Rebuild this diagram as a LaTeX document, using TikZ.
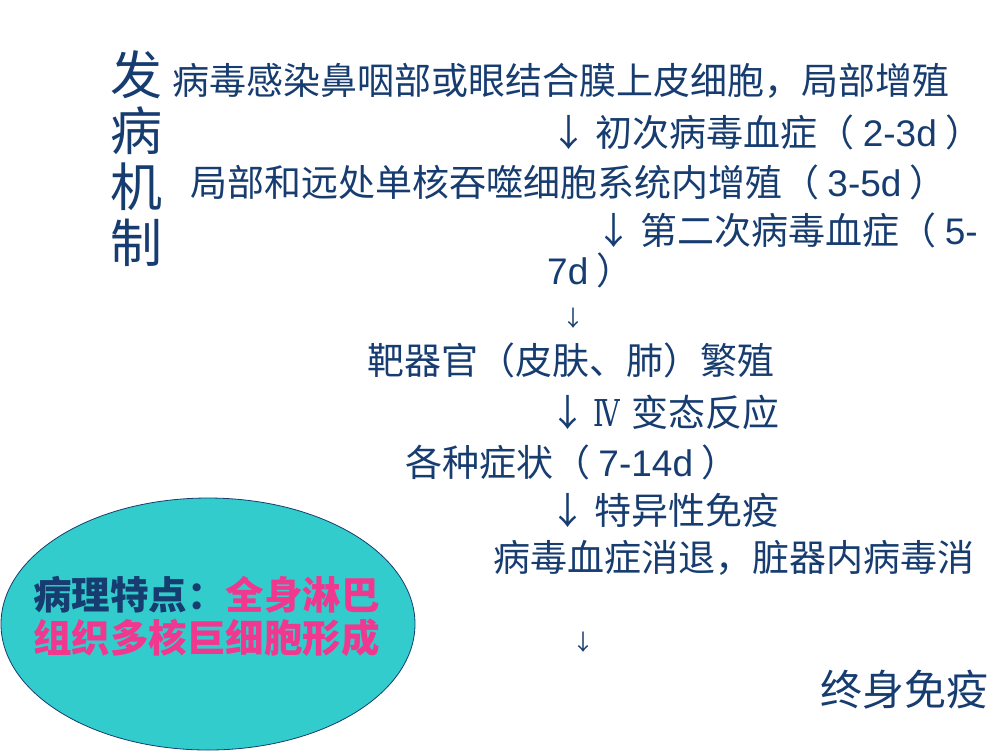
\documentclass[tikz,border=0pt]{standalone}
\usepackage{fontspec}
\usetikzlibrary{shapes.geometric}
\setmainfont{Liberation Sans}
\newfontfamily\cjk{Noto Sans CJK SC}
\newfontfamily\lat{Liberation Sans}
\newfontfamily\romn{DejaVu Serif}
\definecolor{navy}{RGB}{22,60,112}
\definecolor{hotpink}{RGB}{240,56,143}
\definecolor{teal2}{RGB}{51,204,204}
\tikzset{
  line/.style={anchor=west, inner sep=0pt, text=navy, font=\cjk\fontsize{37}{40}\selectfont},
  small/.style={anchor=west, inner sep=0pt, text=navy, font=\cjk\fontsize{22}{24}\selectfont},
  oval/.style={draw=navy, line width=0.8pt, fill=teal2},
}
\begin{document}
\begin{tikzpicture}[x=1pt,y=-1pt]
\useasboundingbox (0,0) rectangle (1000,750);
\node[anchor=north west, inner sep=0pt, text=navy, align=left,
      font=\cjk\fontsize{52}{56}\selectfont] (title) at (110,50) {发\\病\\机\\制};
\node[line] (l1) at (172,81) {病毒感染鼻咽部或眼结合膜上皮细胞，局部增殖};
\node[line] (l2) at (550,132) {↓ 初次病毒血症（ {\lat 2-3d} ）};
\node[line] (l3) at (190,182) {局部和远处单核吞噬细胞系统内增殖（ {\lat 3-5d} ）};
\node[line] (l4) at (595,230) {↓ 第二次病毒血症（ {\lat 5-}};
\node[line] (l4b) at (547,270) {{\lat 7d} ）};
\node[small] (a1) at (562,318) {↓};
\node[line] (l5) at (367,360) {靶器官（皮肤、肺）繁殖};
\node[line] (l6) at (549,412) {↓\hspace{7pt}\scalebox{0.72}[1]{\romn\fontsize{37}{40}\selectfont Ⅳ}\hspace{12pt}变态反应};
\node[line] (l7) at (405,462) {各种症状（ {\lat 7-14d} ）};
\node[line] (l8) at (549,510) {↓ 特异性免疫};
\node[line] (l9) at (493,558) {病毒血症消退，脏器内病毒消};
\node[small] (a2) at (572,642) {↓};
\node[anchor=west, inner sep=0pt, text=navy, font=\cjk\fontsize{42}{44}\selectfont] (l10) at (820,690) {终身免疫};
\node[oval, ellipse, minimum width=414pt, minimum height=252pt, inner sep=0pt] (ell) at (208,624) {};
\node[anchor=west, inner sep=0pt, font=\cjk\bfseries\fontsize{38.5}{40}\selectfont, text=navy] (e1) at (33,595) {病理特点：\textcolor{hotpink}{全身淋巴}};
\node[anchor=west, inner sep=0pt, font=\cjk\bfseries\fontsize{38.5}{40}\selectfont, text=hotpink] (e2) at (33,638) {组织多核巨细胞形成};
\end{tikzpicture}
\end{document}
